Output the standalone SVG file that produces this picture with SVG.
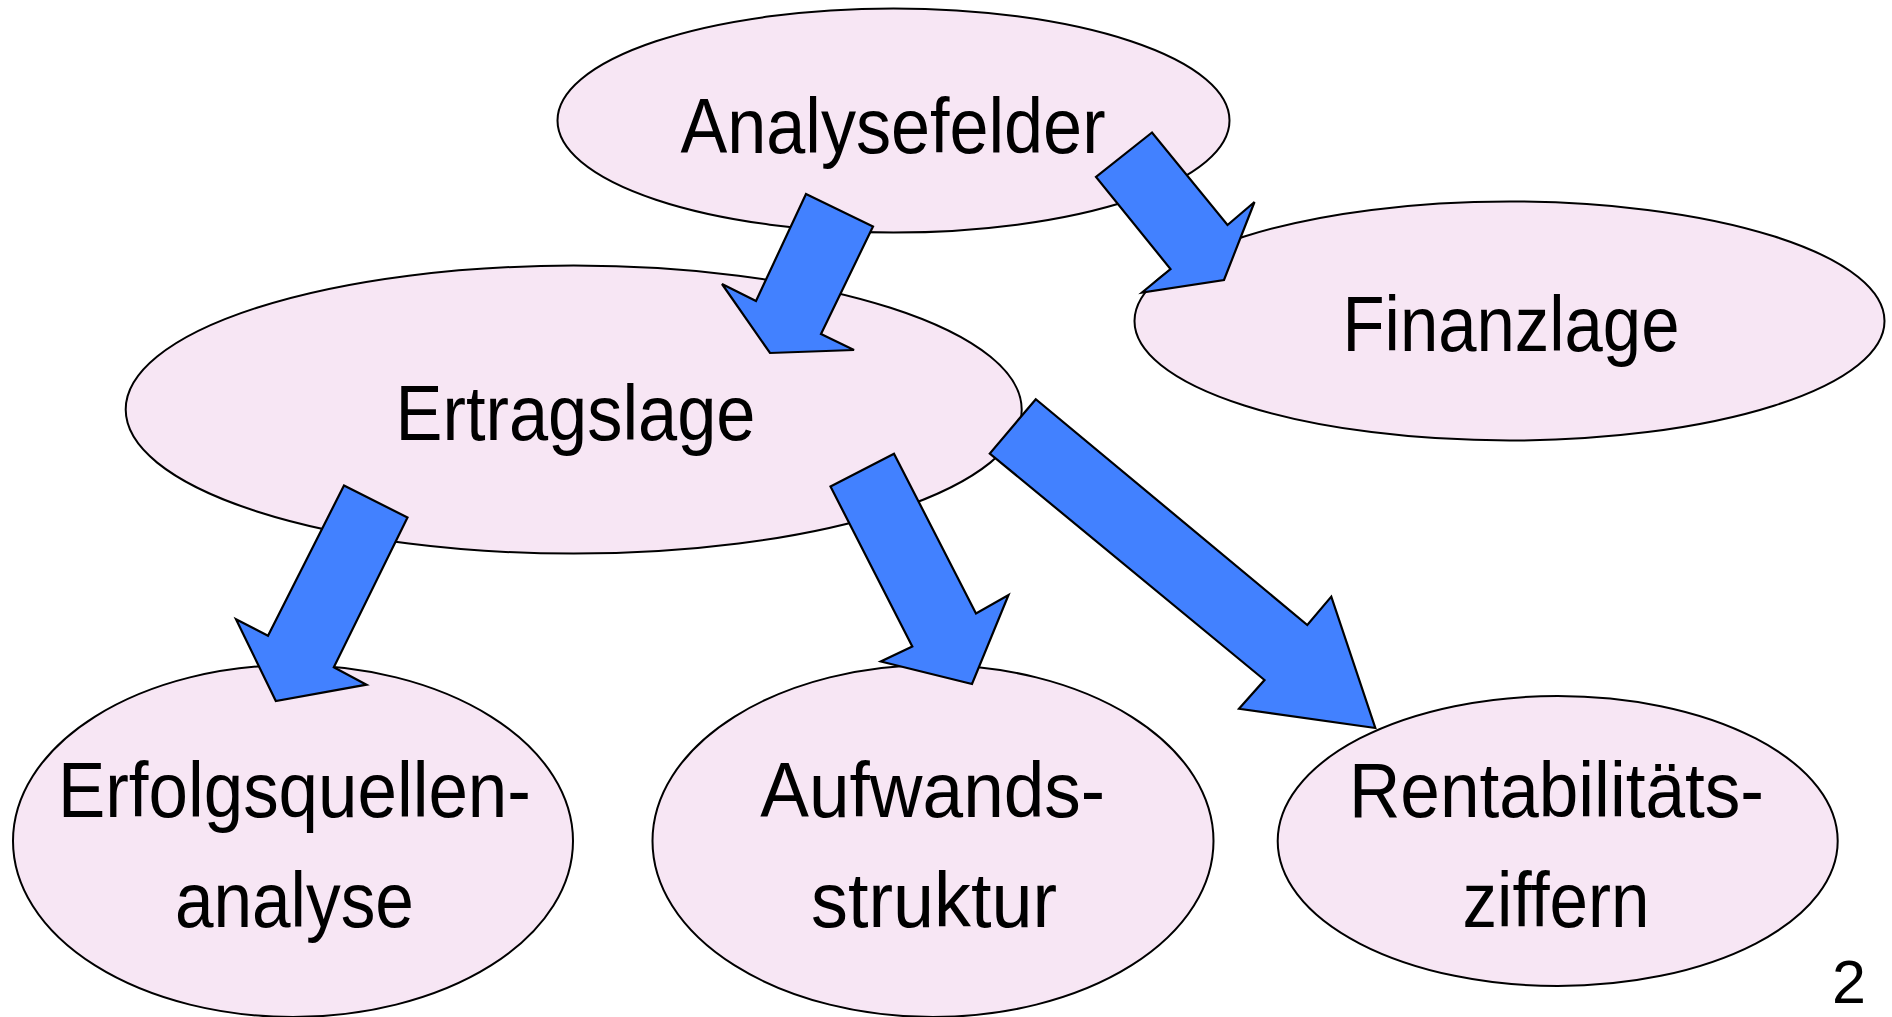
<svg xmlns="http://www.w3.org/2000/svg" width="1892" height="1017" viewBox="0 0 1892 1017">
<style>
.node{fill:#F7E6F4;stroke:#000;stroke-width:2}
.arr{fill:#4281FF;stroke:#000;stroke-width:2.2;stroke-linejoin:miter}
text{font-family:"Liberation Sans",Arial,Helvetica,sans-serif;font-size:77px;fill:#000;text-anchor:middle}
</style>
<rect width="1892" height="1017" fill="#fff"/>
<g id="analysefelder">
<ellipse class="node" cx="893.5" cy="120.5" rx="336" ry="112"/>
<text x="893" y="153" textLength="425" lengthAdjust="spacingAndGlyphs">Analysefelder</text>
</g>
<g id="finanzlage">
<ellipse class="node" cx="1509.5" cy="321" rx="375" ry="119.5"/>
<text x="1511" y="351" textLength="337" lengthAdjust="spacingAndGlyphs">Finanzlage</text>
</g>
<g id="ertragslage">
<ellipse class="node" cx="573.7" cy="409.6" rx="448" ry="144"/>
<text x="575.5" y="440" textLength="360" lengthAdjust="spacingAndGlyphs">Ertragslage</text>
</g>
<g id="erfolgsquellenanalyse">
<ellipse class="node" cx="293" cy="841" rx="280" ry="176"/>
<text x="294.4" y="817" textLength="473" lengthAdjust="spacingAndGlyphs">Erfolgsquellen-</text>
<text x="294.4" y="926.7" textLength="239" lengthAdjust="spacingAndGlyphs">analyse</text>
</g>
<g id="aufwandsstruktur">
<ellipse class="node" cx="933" cy="841" rx="280.5" ry="176"/>
<text x="932.7" y="817" textLength="345" lengthAdjust="spacingAndGlyphs">Aufwands-</text>
<text x="934" y="926.7" textLength="246" lengthAdjust="spacingAndGlyphs">struktur</text>
</g>
<g id="rentabilitaetsziffern">
<ellipse class="node" cx="1557.7" cy="841" rx="280" ry="145"/>
<text x="1556.5" y="817" textLength="415" lengthAdjust="spacingAndGlyphs">Rentabilitäts-</text>
<text x="1556" y="926.7" textLength="187" lengthAdjust="spacingAndGlyphs">ziffern</text>
</g>
<g id="connectors">
<polygon class="arr" points="806,194 873,226.5 821,334 854,350 770,353 722,284 756,301"/>
<polygon class="arr" points="1152,132.5 1096,177 1170.5,269 1142,292.5 1224,280 1254.5,202 1227.5,225"/>
<polygon class="arr" points="344,485.5 407.5,517.5 333.8,667.3 366.5,684.7 275.8,701 236,619.3 268,635.8"/>
<polygon class="arr" points="830.5,486.5 894,453.7 976,613.5 1008.5,595 972,684 880.8,661.5 912.3,646.5"/>
<polygon class="arr" points="1035.8,399.2 989.8,453.5 1264.5,680 1239,708.8 1375.3,728 1331.3,596.6 1307.3,625"/>
</g>
<text x="1849" y="1003" style="font-size:61px">2</text>
</svg>
